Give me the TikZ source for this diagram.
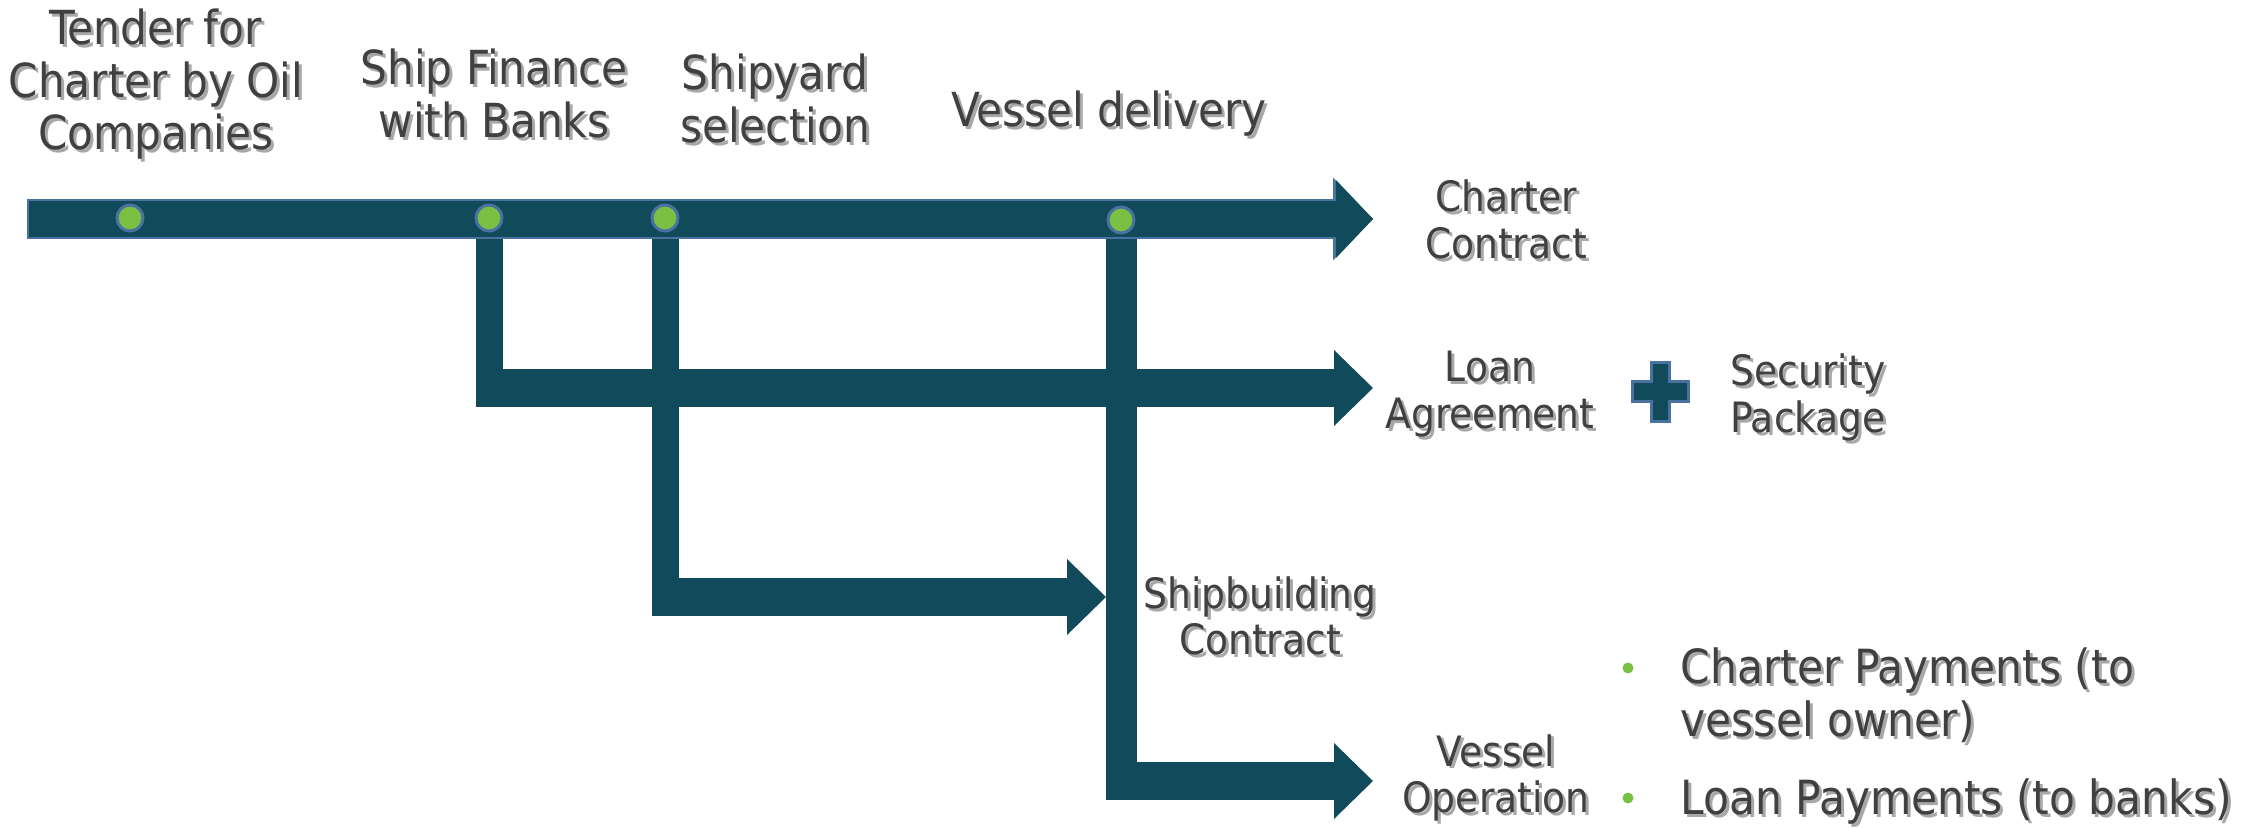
\documentclass[tikz,border=0pt]{standalone}
\usepackage{fontspec}
\setmainfont{DejaVu Sans Condensed}
\usetikzlibrary{arrows.meta}

\definecolor{deepsea}{HTML}{114A5A}
\definecolor{edge}{HTML}{4A72A0}
\definecolor{leaf}{HTML}{7AC143}
\definecolor{ink}{HTML}{404040}
\definecolor{shade}{HTML}{A8A8A8}

% lines set one under the other, baseline on the first line
\newcommand\stack[2]{\vtop{\let\\\cr\halign{#1##\hfil\cr#2\crcr}}}
% same text again, shifted and grey, as a drop shadow
\newcommand\shadowed[2][\hfil]{%
  \makebox[0pt][l]{\kern0.3mm\raisebox{-0.3mm}{\color{shade}\stack{#1}{#2}}}%
  \stack{#1}{#2}}

\begin{document}
\begin{tikzpicture}[
        x=0.1mm, y=-0.1mm,
        flow/.style={draw=deepsea, line width=3.8mm,
            -{Triangle[length=3.9mm, width=7.6mm, line width=0pt]}},
        timeline/.style={draw=deepsea, line width=3.6mm,
            -{Triangle[length=3.7mm, width=7.8mm, line width=0pt]},
            preaction={draw=edge, line width=4.0mm, shorten <=-0.2mm,
                -{Triangle[length=4.0mm, width=8.3mm, line width=0pt]}}},
        branch/.style={draw=deepsea, line width=2.7mm},
        milestone/.style={circle, fill=leaf, draw=edge, line width=0.3mm,
            minimum size=2.6mm, inner sep=0},
        bulletdot/.style={circle, fill=leaf, minimum size=1.1mm, inner sep=0},
        toplabel/.style={inner sep=0, anchor=base, text=ink,
            font=\fontsize{13.35}{14.8}\selectfont},
        sidelabel/.style={toplabel, font=\fontsize{11.9}{13.1}\selectfont},
        itemtext/.style={inner sep=0, anchor=base west, text=ink,
            font=\fontsize{13.4}{15}\selectfont},
        plussign/.style={fill=deepsea, draw=edge, line width=0.3mm}
    ]
        \useasboundingbox (0,0) rectangle (2251,828);

        % milestones on the time line
        \coordinate (start) at (29,219);
        \coordinate (chartertip) at (1373,219);
        \coordinate (loantip) at (1373,388);
        \coordinate (sbtip) at (1106,597);
        \coordinate (optip) at (1373,781);

        \path (130,218)  node[milestone] (tenderdot) {};
        \path (489,218)  node[milestone] (financedot) {};
        \path (665,218)  node[milestone] (yarddot) {};
        \path (1121,220) node[milestone] (deliverydot) {};

        % branches down from the milestones
        \draw[branch] (financedot.center) -- (financedot.center |- loantip);
        \draw[branch] (yarddot.center) -- (yarddot.center |- sbtip);
        \draw[branch, line width=3.1mm] (deliverydot.center) -- (deliverydot.center |- optip);

        \draw[flow] ([xshift=-1.35mm]financedot.center |- loantip) -- (loantip);
        \draw[flow] ([xshift=-1.35mm]yarddot.center |- sbtip) -- (sbtip);
        \draw[flow] ([xshift=-1.55mm]deliverydot.center |- optip) -- (optip);

        \draw[timeline] (start) -- (chartertip);
        \foreach \m in {tenderdot, financedot, yarddot, deliverydot}
            \node[milestone] at (\m) {};

        % labels
        \node[toplabel] (tender)   at (156,45)  {\shadowed{Tender for\\Charter by Oil\\Companies}};
        \node[toplabel] (finance)  at (494,85)  {\shadowed{Ship Finance\\with Banks}};
        \node[toplabel] (yard)     at (775,90)  {\shadowed{Shipyard\\selection}};
        \node[toplabel] (delivery) at (1109,127) {\shadowed{Vessel delivery}};

        \node[sidelabel] (charter)   at (1506,212) {\shadowed{Charter\\Contract}};
        \node[sidelabel] (loan)      at (1490,382) {\shadowed{Loan\\Agreement}};
        \node[sidelabel] (security)  at (1808,386) {\shadowed{Security\\Package}};
        \node[sidelabel] (shipbuild) at (1260,608) {\shadowed{Shipbuilding\\Contract}};
        \node[sidelabel] (operation) at (1496,766) {\shadowed{Vessel\\Operation}};

        \coordinate (plus) at (1660,392);
        \draw[plussign, shift={(plus)}] (-9,-29) -- (9,-29) -- (9,-10) -- (28,-10)
            -- (28,10) -- (9,10) -- (9,30) -- (-9,30) -- (-9,10) -- (-28,10)
            -- (-28,-10) -- (-9,-10) -- cycle;

        % payments during operation
        \node[bulletdot] (bul1) at (1628,668) {};
        \node[bulletdot] (bul2) at (1628,798) {};
        \node[itemtext] (pay1) at (1680,684) {\shadowed[]{Charter Payments (to\\vessel owner)}};
        \node[itemtext] (pay2) at (1680,814) {\shadowed[]{Loan Payments (to banks)}};
    \end{tikzpicture}
\end{document}
